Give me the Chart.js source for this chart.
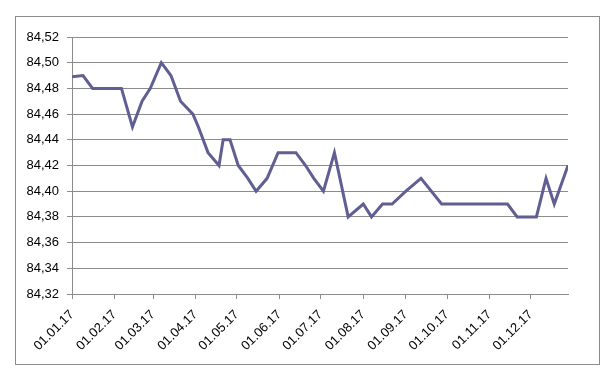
<!DOCTYPE html>
<html>
<head>
<meta charset="utf-8">
<script src="https://cdn.jsdelivr.net/npm/chart.js@4"></script>
<style>
  html, body { margin: 0; padding: 0; background: #fff; }
  #wrap { width: 613px; height: 375px; }
</style>
</head>
<body>
<div id="wrap"><canvas id="rateChart" width="613" height="375"></canvas></div>
<script>
// Data (date of each point, value)
const pointDates = [
  "2017-01-01", "2017-01-09", "2017-01-16", "2017-01-23", "2017-01-30",
  "2017-02-06", "2017-02-14", "2017-02-21", "2017-02-27", "2017-03-07",
  "2017-03-14", "2017-03-21", "2017-03-30", "2017-04-03", "2017-04-10",
  "2017-04-18", "2017-04-21", "2017-04-26", "2017-05-02", "2017-05-09",
  "2017-05-15", "2017-05-23", "2017-05-31", "2017-06-13", "2017-06-20",
  "2017-06-26", "2017-07-03", "2017-07-11", "2017-07-21", "2017-08-01",
  "2017-08-07", "2017-08-15", "2017-08-22", "2017-09-01", "2017-09-12",
  "2017-09-27", "2017-10-11", "2017-10-25", "2017-11-14", "2017-11-21",
  "2017-12-05", "2017-12-12", "2017-12-18", "2017-12-28"
];
const pointValues = [
  84.489, 84.49, 84.48, 84.48, 84.48,
  84.48, 84.45, 84.47, 84.48, 84.50,
  84.49, 84.47, 84.46, 84.45, 84.43,
  84.42, 84.44, 84.44, 84.42, 84.41,
  84.40, 84.41, 84.43, 84.43, 84.42,
  84.41, 84.40, 84.43, 84.38, 84.39,
  84.38, 84.39, 84.39, 84.40, 84.41,
  84.39, 84.39, 84.39, 84.39, 84.38,
  84.38, 84.41, 84.39, 84.42
];

// X axis ticks (month starts) and their labels
const tickDates = [
  "2017-01-01", "2017-02-01", "2017-03-01", "2017-04-01", "2017-05-01", "2017-06-01",
  "2017-07-01", "2017-08-01", "2017-09-01", "2017-10-01", "2017-11-01", "2017-12-01"
];
const tickLabels = [
  "01.01.17", "01.02.17", "01.03.17", "01.04.17", "01.05.17", "01.06.17",
  "01.07.17", "01.08.17", "01.09.17", "01.10.17", "01.11.17", "01.12.17"
];

// Y axis ticks
const yTickValues = [84.32, 84.34, 84.36, 84.38, 84.40, 84.42, 84.44, 84.46, 84.48, 84.50, 84.52];

// days since first date
const startTime = new Date(pointDates[0]).getTime();
const dayOf = (s) => Math.round((new Date(s).getTime() - startTime) / 86400000);

const points = pointDates.map((d, i) => ({ x: dayOf(d), y: pointValues[i] }));
const tickDays = tickDates.map(dayOf);

const gridColor = "#8c8c8c";
const fontSpec = { family: "'Liberation Sans', Arial, sans-serif", size: 13 };

// outer frame round the chart
const framePlugin = {
  id: "frame",
  beforeDraw(chart) {
    const c = chart.ctx;
    c.save();
    c.fillStyle = "#fff";
    c.fillRect(0, 0, chart.width, chart.height);
    c.strokeStyle = "#8c8c8c";
    c.lineWidth = 1;
    c.strokeRect(15.5, 16.5, 584, 348);
    c.restore();
  },
};

const ctx = document.getElementById("rateChart").getContext("2d");
new Chart(ctx, {
  type: "line",
  data: {
    datasets: [
      {
        label: "Rate",
        data: points,
        borderColor: "#5f5f93",
        borderWidth: 3,
        pointRadius: 0,
        tension: 0,
        fill: false,
      },
    ],
  },
  options: {
    responsive: false,
    animation: false,
    layout: {
      padding: { left: 0, top: 37, right: 45, bottom: 0 },
    },
    plugins: {
      legend: { display: false },
      tooltip: { enabled: false },
    },
    scales: {
      x: {
        type: "linear",
        min: 0,
        max: points[points.length - 1].x,
        afterBuildTicks: (scale) => {
          scale.ticks = tickDays.map((v) => ({ value: v }));
        },
        afterFit: (scale) => {
          scale.height = 81;
        },
        grid: {
          drawOnChartArea: false,
          drawTicks: true,
          tickLength: 5,
          color: gridColor,
        },
        border: { color: gridColor },
        ticks: {
          autoSkip: false,
          maxRotation: 45,
          minRotation: 45,
          padding: 8,
          color: "#000",
          font: fontSpec,
          callback: (value, index) => tickLabels[index],
        },
      },
      y: {
        min: yTickValues[0],
        max: yTickValues[yTickValues.length - 1],
        afterBuildTicks: (scale) => {
          scale.ticks = yTickValues.map((v) => ({ value: v }));
        },
        afterFit: (scale) => {
          scale.width = 72;
        },
        grid: {
          color: gridColor,
          tickLength: 5,
        },
        border: { color: gridColor },
        ticks: {
          padding: 8,
          color: "#000",
          font: fontSpec,
          callback: (value) => value.toFixed(2).replace(".", ","),
        },
      },
    },
  },
  plugins: [framePlugin],
});
</script>
</body>
</html>
